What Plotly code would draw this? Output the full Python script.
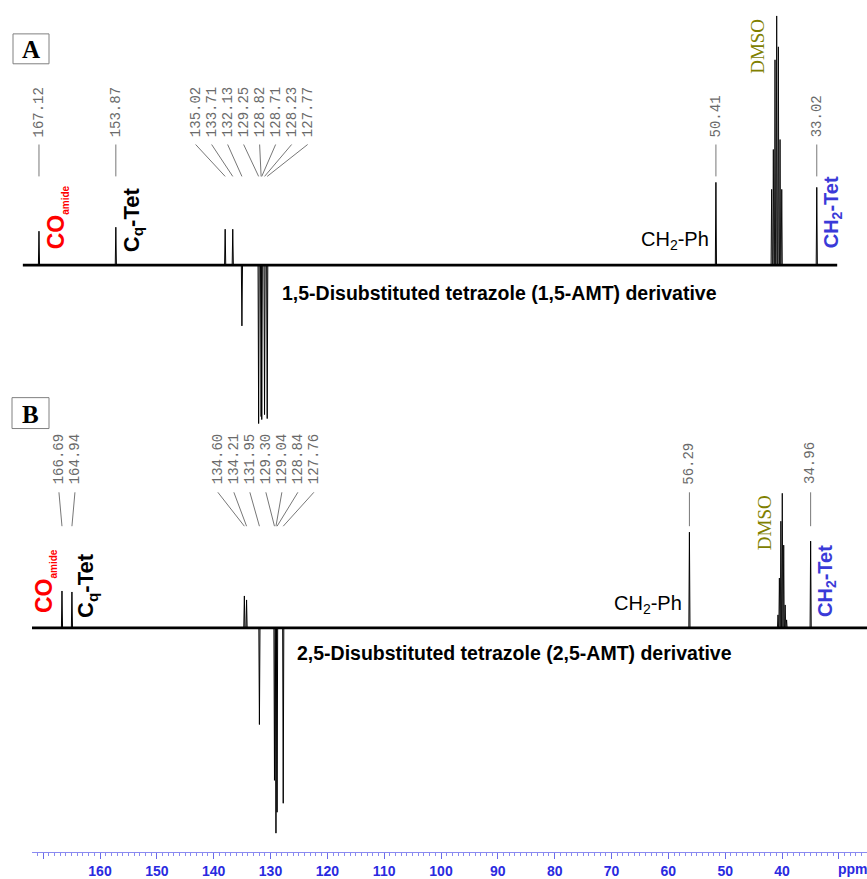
import plotly.graph_objects as go

W, H = 867, 879

# ---------------- data ----------------
# Spectrum A: 1,5-disubstituted tetrazole
a_peak_ppm = [167.12, 153.87, 135.02, 133.71, 132.13, 129.25, 128.82, 128.71, 128.23, 127.77, 50.41, 33.02]
a_peak_int = [34, 38, 36, 36, -61, -159, -152, -155, -150, -154, 83, 78]
a_dmso_ppm = [40.80, 40.51, 40.22, 39.93, 39.64, 39.35, 39.06]
a_dmso_int = [76, 116, 206, 250, 219, 126, 76]
a_window = [169.9, 29.5]

# Spectrum B: 2,5-disubstituted tetrazole
b_peak_ppm = [166.69, 164.94, 134.60, 134.21, 131.95, 129.30, 129.04, 128.84, 127.76, 56.29, 34.96]
b_peak_int = [37, 36, 32, 28, -97, -153, -206, -185, -176, 96, 87]
b_dmso_ppm = [40.71, 40.46, 40.20, 39.95, 39.70, 39.44, 39.19]
b_dmso_int = [13, 50, 107, 135, 83, 23, 8]
b_window = [172.0, 25.0]

axis_tick_ppm = [170, 160, 150, 140, 130, 120, 110, 100, 90, 80, 70, 60, 50, 40, 30]
axis_tick_text = ["", "160", "150", "140", "130", "120", "110", "100", "90", "80", "70", "60", "50", "40", ""]

# ---------------- layout constants ----------------
XB_RANGE = [171.965, 25.044]
XB_DOMAIN = [32 / W, 1.0]
XA_RANGE = [173.84, 24.36]
YA_RANGE = [-613, 266]   # baseline of A at 266 px from top
YB_RANGE = [-249, 630]   # baseline of B at 630 px from top

ppp_A = W / (XA_RANGE[0] - XA_RANGE[1])
ppp_B = W * (XB_DOMAIN[1] - XB_DOMAIN[0]) / (XB_RANGE[0] - XB_RANGE[1])

def px(x):
    return x / W

def py(y):
    return 1 - y / H


def sticks(ppm, inten, w):
    xs, ys = [], []
    for p, h in zip(ppm, inten):
        xs += [p + w, p, p - w, None]
        ys += [0, h, 0, None]
    return xs, ys


def spread_labels(ppms, spacing):
    order = sorted(ppms, reverse=True)
    clusters = [[p] for p in order]

    def bounds(c):
        m = sum(c) / len(c)
        half = (len(c) - 1) / 2 * spacing
        return m + half, m - half

    merged = True
    while merged:
        merged = False
        for k in range(len(clusters) - 1):
            top1, bot1 = bounds(clusters[k])
            top2, bot2 = bounds(clusters[k + 1])
            if bot1 - top2 < spacing - 1e-9:
                clusters[k] = clusters[k] + clusters[k + 1]
                del clusters[k + 1]
                merged = True
                break
    out = {}
    for c in clusters:
        top, _ = bounds(c)
        for i, p in enumerate(c):
            out[p] = top - i * spacing
    return out


fig = go.Figure()

LABEL_GAP = 16  # px

def add_spectrum(peaks, ints, dmso_p, dmso_i, window, xa, ya, lead_top, lead_bot, lab_bottom, ppp):
    # baseline (noise band)
    fig.add_trace(go.Scatter(x=window, y=[0, 0], xaxis=xa, yaxis=ya, mode="lines",
                             line=dict(color="black", width=2.6), hoverinfo="skip", showlegend=False))
    xs, ys = sticks(peaks, ints, 0.1)
    fig.add_trace(go.Scatter(x=xs, y=ys, xaxis=xa, yaxis=ya, mode="lines",
                             line=dict(color="black", width=1), hoverinfo="skip", showlegend=False))
    xs, ys = sticks(dmso_p, dmso_i, 0.1)
    fig.add_trace(go.Scatter(x=xs, y=ys, xaxis=xa, yaxis=ya, mode="lines",
                             line=dict(color="black", width=0.9), hoverinfo="skip", showlegend=False))
    lab = spread_labels(peaks, LABEL_GAP / ppp)
    lx, ly = [], []
    for p in peaks:
        lx += [lab[p], p, None]
        ly += [lead_top, lead_bot, None]
        fig.add_annotation(x=lab[p], y=lab_bottom, xref=xa, yref=ya, text=f"{p:.2f}",
                           textangle=-90, showarrow=False, xanchor="center", yanchor="bottom",
                           borderpad=0,
                           font=dict(family="Liberation Mono", size=14, color="#6a6a6a"))
    fig.add_trace(go.Scatter(x=lx, y=ly, xaxis=xa, yaxis=ya, mode="lines",
                             line=dict(color="#777777", width=1), hoverinfo="skip", showlegend=False))


add_spectrum(a_peak_ppm, a_peak_int, a_dmso_ppm, a_dmso_int, a_window, "x2", "y2",
             121, 89, 127, ppp_A)
add_spectrum(b_peak_ppm, b_peak_int, b_dmso_ppm, b_dmso_int, b_window, "x", "y",
             136, 102, 143, ppp_B)

# panel boxes
for (x0, y0, x1, y1, t) in [(13, 34, 49, 64, "A"), (12, 399, 49, 430, "B")]:
    fig.add_shape(type="rect", xref="paper", yref="paper", x0=px(x0), x1=px(x1), y0=py(y1), y1=py(y0),
                  line=dict(color="#808080", width=1), fillcolor="white")
    fig.add_annotation(x=px((x0 + x1) / 2), y=py((y0 + y1) / 2 + 1), xref="paper", yref="paper", text=f"<b>{t}</b>",
                       showarrow=False, xanchor="center", yanchor="middle",
                       font=dict(family="Liberation Serif", size=25, color="black"))

SANS = "Liberation Sans"

def txt(x, y, text, size, color, angle=0, bold=False, family=SANS):
    fig.add_annotation(x=px(x), y=py(y), xref="paper", yref="paper", text=text, textangle=angle,
                       showarrow=False, xanchor="center", yanchor="middle", borderpad=0,
                       font=dict(family=family, size=size, color=color, weight="bold" if bold else "normal"))

CO = "CO<sub><span style='font-size:10px'>amide</span></sub>"
CQ = "C<sub>q</sub>-Tet"
CH2PH = "CH<sub>2</sub>-Ph"
CH2TET = "CH<sub>2</sub>-Tet"

# Panel A texts
txt(57, 218, CO, 23, "#ff0000", -90, True)
txt(133, 221, CQ, 22, "black", -90, True)
txt(675, 241, CH2PH, 20, "black")
txt(758, 47, "DMSO", 19, "#808000", -90, family="Liberation Serif")
txt(832, 213, CH2TET, 20, "#3a3ad8", -90, True)
txt(499, 294, "<b>1,5-Disubstituted tetrazole (1,5-AMT) derivative</b>", 19.5, "black")

# Panel B texts
txt(45, 583, CO, 23, "#ff0000", -90, True)
txt(87, 588, CQ, 22, "black", -90, True)
txt(648, 607, CH2PH, 20, "black")
txt(764, 525, "DMSO", 19, "#808000", -90, family="Liberation Serif")
txt(826, 583, CH2TET, 20, "#3a3ad8", -90, True)
txt(514, 655, "<b>2,5-Disubstituted tetrazole (2,5-AMT) derivative</b>", 19.5, "black")

# ppm unit label
fig.add_annotation(x=px(853), y=py(872), xref="paper", yref="paper", text="<b>ppm</b>", showarrow=False,
                   xanchor="center", yanchor="middle",
                   font=dict(family=SANS, size=14, color="#2a2ae0"))

fig.update_layout(
    width=W, height=H, margin=dict(l=0, r=0, t=0, b=0),
    paper_bgcolor="white", plot_bgcolor="rgba(0,0,0,0)", showlegend=False,
    xaxis=dict(domain=XB_DOMAIN, range=XB_RANGE, anchor="free", position=1 - 855 / H,
               showline=True, linecolor="#8a8af0", linewidth=1, showgrid=False, zeroline=False,
               tickmode="array", tickvals=axis_tick_ppm, ticktext=axis_tick_text,
               ticks="outside", ticklen=6, tickcolor="#6a6ae8", tickwidth=1,
               tickfont=dict(family=SANS, size=14, color="#2a2ae0", weight="bold"),
               minor=dict(dtick=1, ticks="outside", ticklen=3, tickcolor="#8a8af0", showgrid=False)),
    yaxis=dict(domain=[0, 1], range=YB_RANGE, anchor="x", visible=False),
    xaxis2=dict(domain=[0, 1], range=XA_RANGE, anchor="y2", visible=False),
    yaxis2=dict(domain=[0, 1], range=YA_RANGE, anchor="x2", visible=False),
)

fig.write_html("out.html", config={"displayModeBar": False, "staticPlot": True},
               post_script="document.body.style.margin='0';document.body.style.overflow='hidden';")
